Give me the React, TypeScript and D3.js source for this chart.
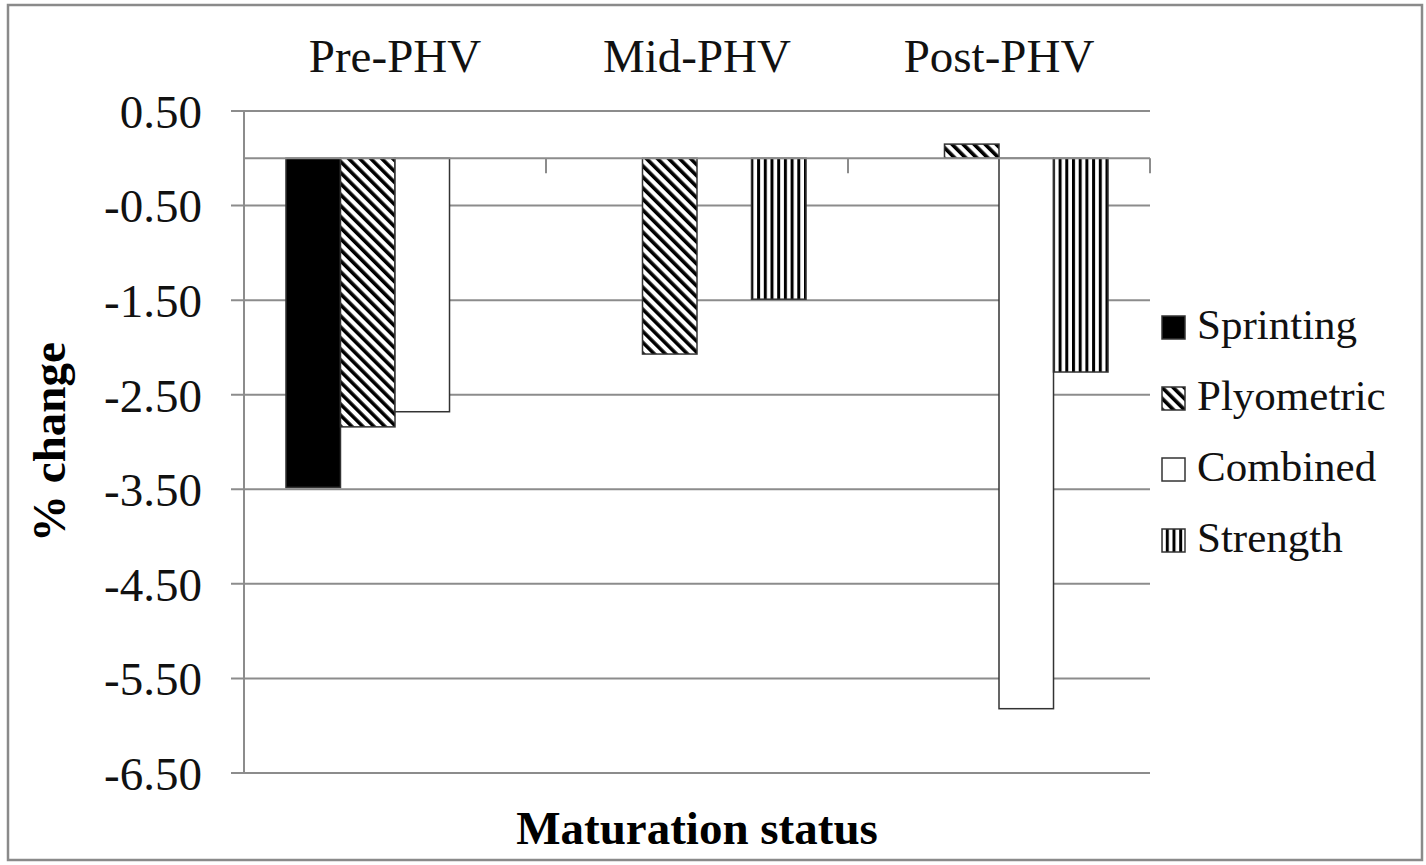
import React from "react";
import * as d3 from "d3";

// Maturation groups and the four training modes
const categories = ["Pre-PHV", "Mid-PHV", "Post-PHV"];
const seriesNames = ["Sprinting", "Plyometric", "Combined", "Strength"];

// % change per group (null = no bar)
const sprinting: (number | null)[] = [-3.48, null, null];
const plyometric: (number | null)[] = [-2.84, -2.07, 0.15];
const combined: (number | null)[] = [-2.68, null, -5.82];
const strength: (number | null)[] = [null, -1.49, -2.26];

const yTicks = [0.5, -0.5, -1.5, -2.5, -3.5, -4.5, -5.5, -6.5];

const W = 1426;
const H = 865;
const FONT = '"Times New Roman", "Liberation Serif", Tinos, "DejaVu Serif", serif';

const fills: Record<string, string> = {
  Sprinting: "#000",
  Plyometric: "url(#diag)",
  Combined: "#fff",
  Strength: "url(#vert)",
};

export default function App() {
  const seriesValues = [sprinting, plyometric, combined, strength];

  const x = d3.scaleBand<string>().domain(categories).range([244, 1150]).padding(0);
  const xInner = d3
    .scaleBand<string>()
    .domain(seriesNames)
    .range([0, x.bandwidth()])
    .paddingInner(0)
    .paddingOuter(0.77);
  const y = d3.scaleLinear().domain([0.5, -6.5]).range([111, 773]);
  const fmt = (v: number) => d3.format(".2f")(v).replace("\u2212", "-");

  const plotLeft = 244;
  const plotRight = 1150;
  const y0 = y(0);

  const bars: { key: string; x: number; w: number; y: number; h: number; fill: string }[] = [];
  seriesNames.forEach((s, si) => {
    categories.forEach((c, ci) => {
      const v = seriesValues[si][ci];
      if (v === null || v === undefined) return;
      const bx = (x(c) ?? 0) + (xInner(s) ?? 0);
      const top = Math.min(y(v), y0);
      const h = Math.abs(y(v) - y0);
      bars.push({ key: `${s}-${c}`, x: bx, w: xInner.bandwidth(), y: top, h, fill: fills[s] });
    });
  });

  const legendX = 1162;
  const legendRowY = d3.scalePoint<string>().domain(seriesNames).range([339, 552]);
  const textStyle = { fontFamily: FONT };

  return (
    <svg
      width={W}
      height={H}
      style={{ position: "absolute", left: 0, top: 0, background: "#fff" }}
    >
      <defs>
        <pattern
          id="diag"
          patternUnits="userSpaceOnUse"
          width={7.8}
          height={7.8}
          patternTransform="rotate(-45)"
        >
          <rect width={7.8} height={7.8} fill="#fff" />
          <rect width={3.6} height={7.8} fill="#000" />
        </pattern>
        <pattern id="vert" patternUnits="userSpaceOnUse" width={6.7} height={10}>
          <rect width={6.7} height={10} fill="#fff" />
          <rect width={3} height={10} fill="#000" />
        </pattern>
      </defs>

      {/* outer frame */}
      <rect x={8} y={5} width={1414} height={855} fill="#fff" stroke="#8a8a8a" strokeWidth={2.5} />

      {/* horizontal gridlines with left tick stubs */}
      {yTicks.map((t) => (
        <line
          key={`g${t}`}
          x1={231}
          x2={plotRight}
          y1={y(t)}
          y2={y(t)}
          stroke="#8c8c8c"
          strokeWidth={2}
        />
      ))}

      {/* y axis */}
      <line x1={plotLeft} x2={plotLeft} y1={y(0.5)} y2={y(-6.5)} stroke="#8c8c8c" strokeWidth={2} />

      {/* y tick labels */}
      {yTicks.map((t) => (
        <text
          key={`l${t}`}
          x={202}
          y={y(t)}
          dy="0.36em"
          textAnchor="end"
          fontSize={47}
          fill="#111"
          style={textStyle}
        >
          {fmt(t)}
        </text>
      ))}

      {/* bars */}
      {bars.map((b) => (
        <rect
          key={b.key}
          x={b.x}
          y={b.y}
          width={b.w}
          height={b.h}
          fill={b.fill}
          stroke="#333"
          strokeWidth={1.5}
        />
      ))}

      {/* category axis at zero with downward ticks at band edges */}
      <line x1={plotLeft} x2={plotRight} y1={y0} y2={y0} stroke="#8c8c8c" strokeWidth={2} />
      {categories.map((c) => {
        const xe = (x(c) ?? 0) + x.bandwidth();
        return (
          <line key={`t${c}`} x1={xe} x2={xe} y1={y0} y2={y0 + 15} stroke="#8c8c8c" strokeWidth={2} />
        );
      })}

      {/* category labels above the plot */}
      {categories.map((c) => (
        <text
          key={`c${c}`}
          x={(x(c) ?? 0) + x.bandwidth() / 2}
          y={72}
          textAnchor="middle"
          fontSize={47}
          fill="#111"
          style={textStyle}
        >
          {c}
        </text>
      ))}

      {/* axis titles */}
      <text
        x={697}
        y={844}
        textAnchor="middle"
        fontSize={47}
        fontWeight="bold"
        fill="#000"
        style={textStyle}
      >
        Maturation status
      </text>
      <text
        transform={`translate(65, 442) rotate(-90)`}
        textAnchor="middle"
        fontSize={47}
        fontWeight="bold"
        fill="#000"
        style={textStyle}
      >
        % change
      </text>

      {/* legend */}
      {seriesNames.map((s) => {
        const by = legendRowY(s) ?? 0;
        return (
          <g key={`lg${s}`}>
            <rect
              x={legendX}
              y={by - 23}
              width={23}
              height={23}
              fill={fills[s]}
              stroke="#333"
              strokeWidth={1.5}
            />
            <text x={1197} y={by} fontSize={43} fill="#111" style={textStyle}>
              {s}
            </text>
          </g>
        );
      })}
    </svg>
  );
}
